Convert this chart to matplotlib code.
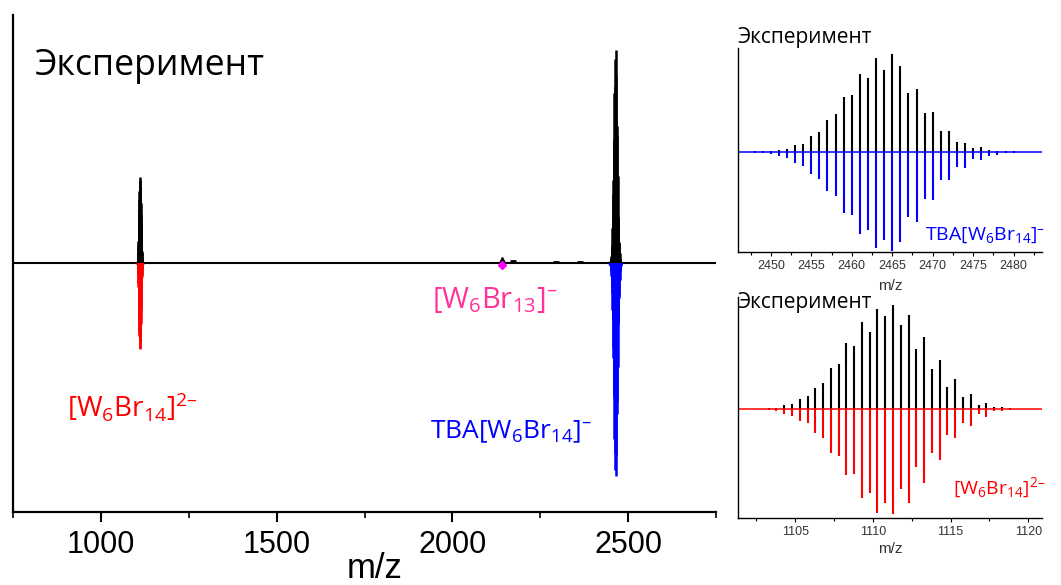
import numpy as np
import matplotlib
matplotlib.use('Agg')
import matplotlib.pyplot as plt
from matplotlib.ticker import MultipleLocator

# ---- data ----
# TBA[W6Br14]- cluster, integer m/z
mz_tba = np.arange(2447, 2481)
exp_tba = [1, 2, 3, 4, 7, 10, 20, 25, 48, 59, 95, 115, 165, 172, 235, 223, 283, 245,
           295, 259, 176, 189, 116, 121, 64, 64, 29, 27, 12, 14, 6, 4, 2, 2]
sim_tba = [1, 2, 4, 6, 13, 18, 32, 42, 65, 80, 117, 132, 182, 188, 245, 233, 288, 265,
           297, 269, 194, 210, 140, 145, 85, 85, 45, 49, 22, 24, 12, 10, 4, 2]

# [W6Br14]2- cluster, half-integer spacing
mz_w2 = np.arange(1103.3, 1119.35, 0.5)
exp_w2 = [3, 4, 12, 15, 30, 39, 64, 79, 122, 135, 197, 189, 262, 232, 300, 280, 312,
          252, 282, 179, 217, 119, 147, 67, 89, 35, 44, 12, 17, 5, 5, 2, 1]
sim_w2 = [3, 5, 15, 21, 35, 43, 73, 88, 131, 140, 198, 196, 268, 253, 311, 281, 315,
          240, 283, 173, 223, 131, 153, 78, 88, 41, 51, 15, 23, 6, 5, 2, 1]

# [W6Br13]- and small bits in the overview
mz_br13 = 2140
minor_mz = [2173, 2295, 2362]
minor_h = [0.8, 0.6, 0.6]

W, H = 1061, 585
plt.rcParams['mathtext.fontset'] = 'custom'
plt.rcParams['mathtext.rm'] = 'Open Sans'
plt.rcParams['mathtext.it'] = 'Open Sans:italic'
tick_font = ['Liberation Sans', 'DejaVu Sans']
label_font = ['Open Sans', 'DejaVu Sans']

RED = '#ff0000'
BLUE = '#0000ff'
PINK = '#ff3399'

fig = plt.figure(figsize=(W / 100, H / 100), dpi=100)
fig.set_facecolor('white')

def box(l, t, r, b):
    return [l / W, 1 - b / H, (r - l) / W, (b - t) / H]

# ---------------- main overview ----------------
ax = fig.add_axes(box(13, 15, 716, 512))
tba_n = np.array(exp_tba) / max(exp_tba) * 100
tba_s = np.array(sim_tba) / max(sim_tba) * 100
w2_n = np.array(exp_w2) / max(exp_w2) * 40.4
w2_s = np.array(sim_w2) / max(sim_w2) * 40.4

ax.vlines(mz_tba, 0, tba_n, color='k', lw=1.8)
ax.vlines(mz_w2, 0, w2_n, color='k', lw=1.8)
ax.vlines(mz_tba, 0, -tba_s, color=BLUE, lw=1.8)
ax.vlines(mz_w2, 0, -w2_s, color=RED, lw=1.8)
ax.axhline(0, color='k', lw=1.5, zorder=1)
ax.plot(minor_mz, minor_h, ls='none', marker='_', color='k', ms=5, mew=2)
ax.plot([mz_br13], [1.2], ls='none', marker='^', color='k', ms=4)
ax.plot([mz_br13], [-0.8], ls='none', marker='D', color='#ff00ff', ms=4)

ax.set_xlim(750, 2750)
ax.set_ylim(-116.9, 116.4)
ax.set_yticks([])
ax.xaxis.set_major_locator(MultipleLocator(500))
ax.xaxis.set_minor_locator(MultipleLocator(250))
ax.tick_params(axis='x', which='major', direction='out', length=7, width=1.5,
               pad=6, labelsize=22)
ax.tick_params(axis='x', which='minor', direction='out', length=4, width=1.2)
for t in ax.get_xticklabels():
    t.set_family(tick_font)
for s in ['top', 'right']:
    ax.spines[s].set_visible(False)
for s in ['left', 'bottom']:
    ax.spines[s].set_linewidth(1.6)
fig.text(375 / W, 1 - 568 / H, 'm/z', fontsize=25, family=tick_font,
         ha='center', va='center')

fig.text(35 / W, 1 - 66 / H, 'Эксперимент', fontsize=25.7, family=label_font,
         ha='left', va='center')
fig.text(132 / W, 1 - 407 / H, r'[W$_6$Br$_{14}$]$^{2–}$', fontsize=20,
         family=label_font, color=RED, ha='center', va='center')
fig.text(495 / W, 1 - 300 / H, r'[W$_6$Br$_{13}$]$^{–}$', fontsize=21,
         family=label_font, color=PINK, ha='center', va='center')
fig.text(511 / W, 1 - 432 / H, r'TBA[W$_6$Br$_{14}$]$^{–}$', fontsize=19,
         family=label_font, color=BLUE, ha='center', va='center')

# ---------------- insets ----------------
def inset(rect, mz, ex, sim, col, xlim, ylim, ticks, label, label_y, exp_y, mz_y):
    a = fig.add_axes(rect)
    a.vlines(mz, 0, ex, color='k', lw=1.5)
    a.vlines(mz, 0, -np.array(sim), color=col, lw=1.5)
    a.axhline(0, color=col, lw=1.1)
    a.set_xlim(*xlim)
    a.set_ylim(*ylim)
    a.set_yticks([])
    a.set_xticks(ticks)
    a.xaxis.set_minor_locator(MultipleLocator(2.5))
    a.tick_params(axis='x', which='major', direction='out', length=3, width=0.8,
                  labelsize=9, labelcolor='#333333', pad=3)
    a.tick_params(axis='x', which='minor', direction='out', length=2, width=0.8)
    for t in a.get_xticklabels():
        t.set_family(tick_font)
    for s in ['top', 'right']:
        a.spines[s].set_visible(False)
    for s in ['left', 'bottom']:
        a.spines[s].set_linewidth(1.0)
    fig.text(737 / W, 1 - exp_y / H, 'Эксперимент', fontsize=15,
             family=label_font, ha='left', va='center')
    fig.text(890 / W, 1 - mz_y / H, 'm/z', fontsize=11, family=tick_font,
             color='#333333', ha='center', va='center')
    fig.text(1045 / W, 1 - label_y / H, label, fontsize=14, family=label_font,
             color=col, ha='right', va='center')
    return a

inset(box(738, 48, 1042, 252), mz_tba, exp_tba, sim_tba, BLUE,
      (2445.95, 2483.5), (-300, 312), [2450, 2455, 2460, 2465, 2470, 2475, 2480],
      r'TBA[W$_6$Br$_{14}$]$^{–}$', 235, 37, 286)
inset(box(738, 297, 1042, 518), mz_w2, exp_w2, sim_w2, RED,
      (1101.33, 1120.88), (-327, 336), [1105, 1110, 1115, 1120],
      r'[W$_6$Br$_{14}$]$^{2–}$', 488, 302, 549)

fig.savefig('out.png', dpi=100, facecolor='white')
